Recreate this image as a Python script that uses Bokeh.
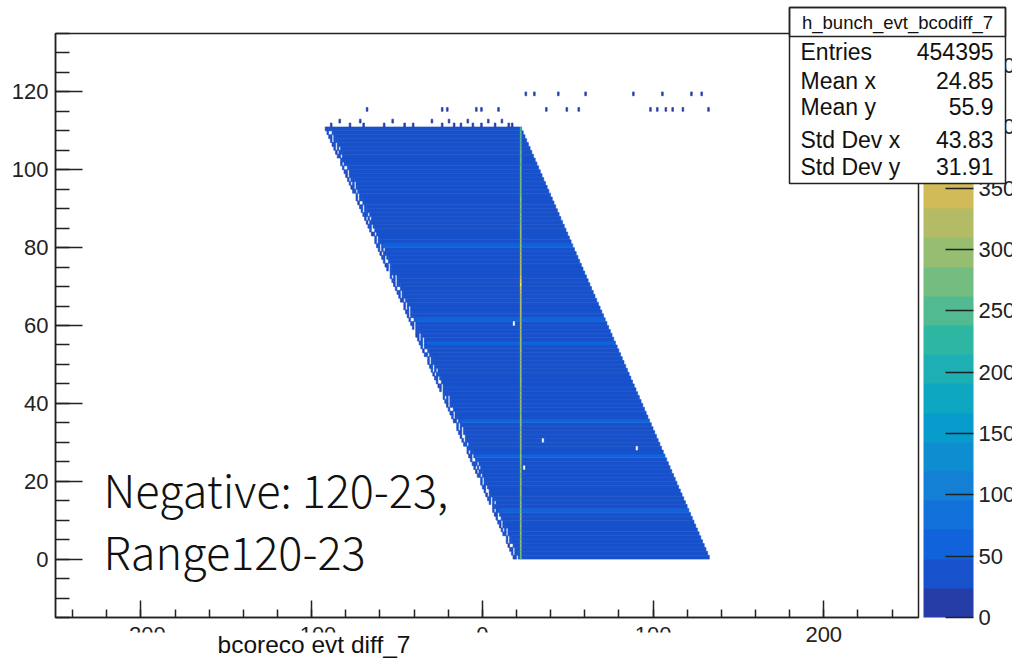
import numpy as np
from bokeh.plotting import figure
from bokeh.models import (Range1d, SingleIntervalTicker, FixedTicker, ColorBar,
                          LinearColorMapper, Label, BoxAnnotation, ColumnDataSource)
from bokeh.transform import transform
from bokeh.embed import file_html
from bokeh.resources import INLINE

# ---------------- histogram content: h_bunch_evt_bcodiff_7 ----------------
# filled band: bins with x + y between these offsets, y bins 0..110
diag_offset_lo = 22
diag_offset_hi = 132
row_y = list(range(0, 111))
row_counts = [
    41, 44, 39, 45, 42, 38, 45, 43, 40, 43,
    37, 46, 50, 41, 39, 44, 46, 42, 36, 45,
    43, 44, 40, 38, 47, 44, 49, 39, 42, 46,
    40, 45, 43, 37, 45, 52, 41, 44, 39, 47,
    42, 38, 44, 45, 40, 43, 46, 37, 44, 46,
    39, 45, 42, 45, 36, 49, 43, 41, 47, 40,
    44, 50, 38, 43, 46, 41, 44, 39, 45, 42,
    37, 47, 44, 40, 45, 43, 38, 46, 41, 45,
    49, 39, 43, 42, 46, 37, 44, 45, 40, 41,
    45, 38, 43, 47, 40, 44, 39, 42, 46, 41,
    43, 38, 40, 44, 39, 42, 41, 37, 43, 40, 36,
]

# ragged low-statistics edge left of each row (4 bins): '.' empty, 'd' low, 'b' normal
fringe_rows = """
db.b b.bb bb.b d..b b.bb .b.b bb.b b.b. d.bb bb.b
b..b db.b b.bb .bbb b.b. bb.b d.bb b..b bb.b b.bb
.b.b bb.b d.bb b.b. bbb. b..b db.b b.bb .bbb bb.b
b.bb d..b bb.b b.b. .b.b db.b b.bb bb.b b..b d.bb
bb.b b.b. .bbb b.bb db.b b..b bb.b d.bb b.b. bb.b
b.bb .b.b bb.b d..b b.bb bb.b b.b. db.b .bbb b.bb
bb.b b..b d.bb bb.b b.b. .b.b db.b b.bb bb.b b..b
d.bb bb.b b.b. .bbb b.bb db.b b..b bb.b d.bb b.b.
bb.b b.bb .b.b db.b b..b bb.b d.bb b.b. bbb. b.bb
bb.b d..b b.bb .b.b bb.b db.b b.b. b.bb d.bb bb.b
b..b b.bb .bbb bb.b d.bb b.b. db.b b.bb bb.b b..b dbbb
""".split()
fringe_level = {"d": 18, "b": 36}

# hot column at x = 22
line_x = 22
line_counts = [
    262, 281, 270, 295, 288, 276, 301, 284, 292, 279,
    298, 286, 274, 305, 291, 283, 296, 288, 279, 302,
    290, 284, 297, 281, 293, 306, 287, 279, 295, 289,
    301, 286, 294, 283, 298, 307, 291, 285, 299, 293,
    288, 302, 295, 284, 306, 297, 290, 309, 296, 301,
    293, 305, 298, 312, 296, 304, 318, 301, 309, 322,
    315, 308, 320, 312, 327, 318, 331, 324, 352, 380,
    453, 410, 362, 331, 318, 325, 313, 321, 310, 304,
    297, 306, 291, 300, 288, 295, 283, 292, 286, 279,
    290, 281, 287, 276, 284, 273, 280, 268, 277, 265,
    272, 261, 268, 255, 263, 249, 258, 244, 251, 238, 226,
]

# isolated low-count bins above the band
dot_x = [-89, -84, -78, -72, -70, -58, -53, -46, -41, -30, -24, -20, -17, -13, -9, -6, -1, 3, 7, 11, 15, 17,
         -68, -24, -21, -4, -1, 9, 37, 49, 56, 98, 102, 107, 111, 117, 132,
         25, 30, 44, 60, 88, 105, 122, 128]
dot_y = [111, 112, 111, 112, 111, 111, 112, 111, 111, 112, 111, 112, 111, 111, 112, 111, 111, 112, 111, 112, 111, 111,
         115, 115, 115, 115, 115, 115, 115, 115, 115, 115, 115, 115, 115, 115, 115,
         119, 119, 119, 119, 119, 119, 119, 119]
dot_count = 4

# empty bins inside the band
hole_x = [35, 90, 24, 18]
hole_y = [30, 28, 23, 60]

z_max = 476
x_lo, x_hi = -250, 255.5
y_lo, y_hi = -15, 135
stats_title = "h_bunch_evt_bcodiff_7"
stats_names = ["Entries", "Mean x", "Mean y", "Std Dev x", "Std Dev y"]
stats_values = ["454395", "24.85", "55.9", "43.83", "31.91"]

# ---------------- palette (ROOT kBird, 20 contour levels) ----------------
stops = [0.0, 0.125, 0.25, 0.375, 0.5, 0.625, 0.75, 0.875, 1.0]
red = [0.2082, 0.0592, 0.0780, 0.0232, 0.1802, 0.5301, 0.8186, 0.9956, 0.9764]
green = [0.1664, 0.3599, 0.5041, 0.6419, 0.7178, 0.7492, 0.7328, 0.7862, 0.9832]
blue = [0.5293, 0.8684, 0.8385, 0.7914, 0.6425, 0.4662, 0.3499, 0.1968, 0.0539]


def bird(f):
    r = np.interp(f, stops, red)
    g = np.interp(f, stops, green)
    b = np.interp(f, stops, blue)
    return "#%02x%02x%02x" % (int(r * 255), int(g * 255), int(b * 255))


n_levels = 20
palette = [bird(int((i + 0.99) * 255 / n_levels) / 254) for i in range(n_levels)]
mapper = LinearColorMapper(palette=palette, low=0, high=z_max)

# ---------------- canvas geometry ----------------
W, H = 1012, 661
PAD_L, PAD_R, PAD_T, PAD_B = 55, 94, 33, 44
kx = (W - PAD_L - PAD_R) / (x_hi - x_lo)
ky = (H - PAD_T - PAD_B) / (y_hi - y_lo)

# the frame spans the whole canvas; axes are pinned to the pad edges
p = figure(width=W, height=H, output_backend="svg", toolbar_location=None,
           x_range=Range1d(x_lo - PAD_L / kx, x_hi + PAD_R / kx),
           y_range=Range1d(y_lo - PAD_B / ky, y_hi + PAD_T / ky),
           min_border_left=0, min_border_right=0, min_border_top=0, min_border_bottom=0)
p.background_fill_color = "white"
p.border_fill_color = "white"
p.outline_line_color = None
p.xgrid.visible = False
p.ygrid.visible = False

AX_FONT = "Liberation Sans"
INK = "#222222"
for ax in (p.xaxis[0], p.yaxis[0]):
    ax.axis_line_color = INK
    ax.axis_line_width = 1.5
    ax.major_tick_line_color = INK
    ax.minor_tick_line_color = INK
    ax.major_tick_line_width = 1.5
    ax.minor_tick_line_width = 1.5
    ax.major_tick_out = 0
    ax.minor_tick_out = 0
    ax.major_label_text_font = AX_FONT
    ax.major_label_text_font_size = "22px"
    ax.major_label_text_color = INK

p.xaxis.fixed_location = y_lo
p.xaxis.bounds = (x_lo, x_hi)
p.xaxis.ticker = SingleIntervalTicker(interval=100, num_minor_ticks=5)
p.xaxis.major_tick_in = 17
p.xaxis.minor_tick_in = 8
p.xaxis.major_label_standoff = 9
p.yaxis.fixed_location = x_lo
p.yaxis.bounds = (y_lo, y_hi)
p.yaxis.ticker = SingleIntervalTicker(interval=20, num_minor_ticks=4)
p.yaxis.major_tick_in = 27
p.yaxis.minor_tick_in = 14
p.yaxis.major_label_standoff = 7

# ---------------- bins ----------------
rows = ColumnDataSource(dict(
    left=[diag_offset_lo - y for y in row_y],
    right=[diag_offset_hi - y + 1 for y in row_y],
    bottom=row_y,
    top=[y + 1 for y in row_y],
    count=row_counts,
))
p.quad(left="left", right="right", bottom="bottom", top="top", source=rows,
       fill_color=transform("count", mapper), line_color=transform("count", mapper), line_width=0.6)

fx, fy, fc = [], [], []
for y, token in zip(row_y, fringe_rows):
    x0 = diag_offset_lo - y - len(token)
    for k, ch in enumerate(token):
        if ch in fringe_level:
            fx.append(x0 + k)
            fy.append(y)
            fc.append(fringe_level[ch])
fringe = ColumnDataSource(dict(left=fx, right=[x + 1 for x in fx], bottom=fy,
                               top=[y + 1 for y in fy], count=fc))
p.quad(left="left", right="right", bottom="bottom", top="top", source=fringe,
       fill_color=transform("count", mapper), line_color=transform("count", mapper), line_width=0.6)

holes = ColumnDataSource(dict(left=hole_x, right=[x + 1 for x in hole_x], bottom=hole_y,
                              top=[y + 1 for y in hole_y]))
p.quad(left="left", right="right", bottom="bottom", top="top", source=holes,
       fill_color="white", line_color="white", line_width=0.3)

line = ColumnDataSource(dict(left=[line_x] * len(row_y), right=[line_x + 1] * len(row_y),
                             bottom=row_y, top=[y + 1 for y in row_y], count=line_counts))
p.quad(left="left", right="right", bottom="bottom", top="top", source=line,
       fill_color=transform("count", mapper), line_color=None)

dots = ColumnDataSource(dict(left=dot_x, right=[x + 1 for x in dot_x], bottom=dot_y,
                             top=[y + 1 for y in dot_y], count=[dot_count] * len(dot_x)))
p.quad(left="left", right="right", bottom="bottom", top="top", source=dots,
       fill_color=transform("count", mapper), line_color=transform("count", mapper), line_width=0.6)

# frame around the pad
p.add_layout(BoxAnnotation(left=x_lo, right=x_hi, bottom=y_lo, top=y_hi,
                           fill_alpha=0, line_color=INK, line_width=1.5, line_alpha=1))

# ---------------- colour scale ----------------
cb = ColorBar(color_mapper=mapper, location=(923, PAD_B), width=50, height=H - PAD_T - PAD_B,
              padding=0, margin=0,
              ticker=FixedTicker(ticks=list(range(0, 451, 50))),
              major_tick_in=28, major_tick_out=0,
              major_tick_line_color=INK, major_tick_line_width=1.5,
              minor_tick_line_color=None,
              major_label_text_font=AX_FONT, major_label_text_font_size="22px",
              major_label_text_color=INK, label_standoff=5,
              bar_line_color=None, border_line_color=None, background_fill_alpha=0)
p.add_layout(cb)


def screen_box(left, right, top, bottom, **kw):
    # canvas pixel box (top-left origin) as a screen-unit BoxAnnotation
    return BoxAnnotation(left=left, right=right, top=H - top, bottom=H - bottom,
                         left_units="screen", right_units="screen",
                         top_units="screen", bottom_units="screen", **kw)


def screen_text(x, baseline, text, size, font=AX_FONT, align="left", lift=0.43):
    # canvas pixel baseline (top-left origin)
    return Label(x=x, y=H - baseline + lift * size, x_units="screen", y_units="screen",
                 text=text, text_font=font, text_font_size=f"{size}px", text_color="#111111",
                 text_align=align, text_baseline="alphabetic")


# x axis title band
p.add_layout(screen_box(0, 740, 632, H, fill_color="white", fill_alpha=1, line_color=None))
p.add_layout(screen_text(217, 655, "bcoreco evt diff_7", 24.5))

# ---------------- statistics box ----------------
p.add_layout(screen_box(789, 1005, 7, 183, fill_color="white", fill_alpha=1,
                        line_color=INK, line_width=1.5, line_alpha=1))
p.add_layout(screen_box(789, 1005, 7, 36, fill_alpha=0,
                        line_color=INK, line_width=1.5, line_alpha=1))
p.add_layout(screen_text(897, 30, stats_title, 18.5, align="center"))
for name, val, base in zip(stats_names, stats_values, [61, 90, 116, 149, 176]):
    p.add_layout(screen_text(800, base, name, 23))
    p.add_layout(screen_text(993, base, val, 23, align="right"))

# ---------------- note ----------------
NOTE_FONT = "Noto Sans CJK JP Light, Noto Sans CJK JP"
p.add_layout(screen_text(103, 510, "Negative: 120-23,", 45, font=NOTE_FONT, lift=0.48))
p.add_layout(screen_text(103, 572, "Range120-23", 45, font=NOTE_FONT, lift=0.48))

open("out.html", "w").write(file_html(p, INLINE))
